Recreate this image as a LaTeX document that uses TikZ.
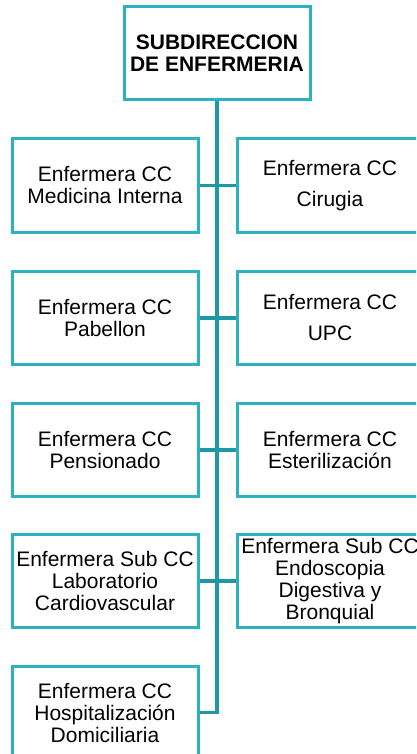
\documentclass[tikz,border=0pt]{standalone}
\usepackage{fontspec}
\setmainfont{Liberation Sans}
\definecolor{boxteal}{HTML}{2CB1C0}
\definecolor{lineteal}{HTML}{1F98A6}
\begin{document}
\begin{tikzpicture}[x=1pt,y=-1pt,
  unit/.style={draw=boxteal, line width=3pt, fill=white,
    minimum width=186pt, minimum height=93pt, inner sep=0pt,
    align=center, font=\fontsize{21}{22}\selectfont},
  link/.style={draw=lineteal, line width=3.2pt}]
\useasboundingbox (0,0) rectangle (416,754);
\clip (0,0) rectangle (416,754);

% head of the chart
\node[unit, font=\fontsize{21}{22}\selectfont\bfseries] (head) at (217,53.5)
  {SUBDIRECCION\\DE ENFERMERIA};

% units, left column
\node[unit] (mi) at (105,185.5) {Enfermera CC\\Medicina Interna};
\node[unit] (pab) at (105,318) {Enfermera CC\\Pabellon};
\node[unit] (pen) at (105,450) {Enfermera CC\\Pensionado};
\node[unit] (lab) at (105,581) {Enfermera Sub CC\\Laboratorio\\Cardiovascular};
\node[unit] (hosp) at (105,712.5) {Enfermera CC\\Hospitalización\\Domiciliaria};

% units, right column
\node[unit] (cir) at (330,185.5) {Enfermera CC\\[9pt]Cirugia};
\node[unit] (upc) at (330,318) {Enfermera CC\\[9pt]UPC};
\node[unit] (est) at (330,450) {Enfermera CC\\Esterilización};
\node[unit] (endo) at (330,581) {Enfermera Sub CC\\Endoscopia\\Digestiva y\\Bronquial};

% connectors: trunk from the head down to the last unit, and the row links
\draw[link] (head.south) |- (hosp.east);
\draw[link] (mi.east) -- (cir.west);
\draw[link] (pab.east) -- (upc.west);
\draw[link] (pen.east) -- (est.west);
\draw[link] (lab.east) -- (endo.west);
\end{tikzpicture}
\end{document}
